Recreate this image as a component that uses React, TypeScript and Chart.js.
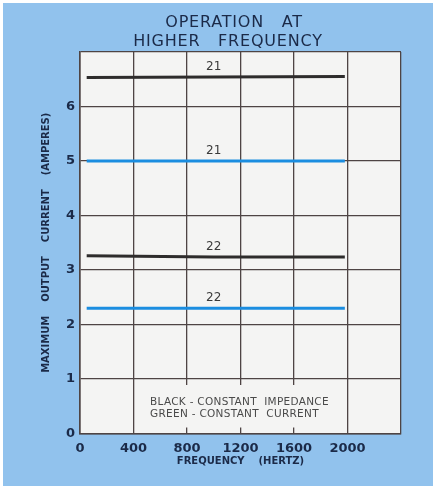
import React, { useEffect, useRef } from "react";
import { Chart, registerables } from "chart.js";

Chart.register(...registerables);

const TITLE_LINES = ["OPERATION   AT", "HIGHER   FREQUENCY"];
const X_TITLE = "FREQUENCY    (HERTZ)";
const Y_TITLE = "MAXIMUM    OUTPUT    CURRENT    (AMPERES)";
const NOTE_LINES = ["BLACK - CONSTANT  IMPEDANCE", "GREEN - CONSTANT  CURRENT"];

const FREQ = [50, 1000, 1980];
const BLACK_21 = [6.53, 6.54, 6.55];
const GREEN_21 = [5.0, 5.0, 5.0];
const BLACK_22 = [3.26, 3.24, 3.24];
const GREEN_22 = [2.3, 2.3, 2.3];
const SERIES_NAMES = ["21", "21", "22", "22"];
const LABEL_X = 1000;

const X_MIN = 0;
const X_MAX = 2400;
const X_STEP = 400;
const X_LAST_LABEL = 2000;
const Y_MIN = 0;
const Y_MAX = 7;
const Y_LAST_LABEL = 6;

const BG_BLUE = "#91c2ed";
const PLOT_BG = "#f4f4f3";
const GRID = "#4e4444";
const INK = "#1b2a48";
const BLACK_LINE = "#2e2c2c";
const GREEN_LINE = "#1b8de0";

const decorPlugin = {
  id: "decor",
  beforeDraw(chart: any) {
    const { ctx, chartArea } = chart;
    ctx.save();
    ctx.fillStyle = "#ffffff";
    ctx.fillRect(0, 0, chart.width, chart.height);
    ctx.fillStyle = BG_BLUE;
    ctx.fillRect(3, 3, chart.width - 7, chart.height - 3);
    ctx.fillStyle = PLOT_BG;
    ctx.fillRect(chartArea.left, chartArea.top, chartArea.right - chartArea.left, chartArea.bottom - chartArea.top);
    ctx.restore();
  },
  beforeDatasetsDraw(chart: any) {
    const { ctx } = chart;
    const xs = chart.scales.x;
    const ys = chart.scales.y;
    ctx.save();
    // note box
    const left = xs.getPixelForValue(400) + 1.5;
    const right = xs.getPixelForValue(2000) - 1.5;
    const top = ys.getPixelForValue(1) + 6;
    const bottom = ys.getPixelForValue(0) - 6;
    ctx.fillStyle = PLOT_BG;
    ctx.fillRect(left, top, right - left, bottom - top);
    ctx.fillStyle = "#4a4a4a";
    ctx.font = "10.5px 'DejaVu Sans'";
    (ctx as any).letterSpacing = "0.3px";
    ctx.textBaseline = "middle";
    ctx.textAlign = "left";
    ctx.fillText(NOTE_LINES[0], left + 15, top + 17.5);
    ctx.fillText(NOTE_LINES[1], left + 15, top + 29);
    (ctx as any).letterSpacing = "0px";
    // series labels
    ctx.font = "12px 'DejaVu Sans'";
    ctx.textAlign = "center";
    ctx.fillStyle = "#3a3a3a";
    chart.data.datasets.forEach((ds: any, i: number) => {
      const idx = FREQ.indexOf(LABEL_X);
      const v = ds.data[idx].y;
      ctx.fillText(SERIES_NAMES[i], xs.getPixelForValue(LABEL_X), ys.getPixelForValue(v) - 10.5);
    });
    ctx.restore();
  },
  afterDraw(chart: any) {
    const { ctx } = chart;
    ctx.save();
    ctx.fillStyle = INK;
    ctx.font = "16px 'DejaVu Sans'";
    (ctx as any).letterSpacing = "0.8px";
    ctx.textAlign = "center";
    ctx.textBaseline = "middle";
    ctx.fillText(TITLE_LINES[0], 234, 23);
    ctx.fillText(TITLE_LINES[1], 228, 42);
    ctx.restore();
  },
};

const mk = (vals: number[]) => FREQ.map((f, i) => ({ x: f, y: vals[i] }));

export default function App() {
  const ref = useRef<HTMLCanvasElement>(null);
  useEffect(() => {
    document.body.style.margin = "0";
    const chart = new Chart(ref.current!, {
      type: "line",
      data: {
        datasets: [
          { data: mk(BLACK_21), borderColor: BLACK_LINE },
          { data: mk(GREEN_21), borderColor: GREEN_LINE },
          { data: mk(BLACK_22), borderColor: BLACK_LINE },
          { data: mk(GREEN_22), borderColor: GREEN_LINE },
        ].map((d) => ({ ...d, borderWidth: 3, pointRadius: 0, tension: 0, fill: false })),
      },
      options: {
        animation: false,
        responsive: false,
        layout: { padding: { left: 0, right: 36, top: 52, bottom: 0 } },
        plugins: { legend: { display: false }, tooltip: { enabled: false }, title: { display: false } },
        scales: {
          x: {
            type: "linear",
            min: X_MIN,
            max: X_MAX,
            afterFit: (s: any) => { s.height = 52.5; },
            ticks: {
              stepSize: X_STEP,
              padding: 7,
              maxRotation: 0,
              color: INK,
              font: { family: "'DejaVu Sans'", size: 13, weight: "bold" },
              callback: (v: any) => (v <= X_LAST_LABEL ? String(v) : ""),
            },
            grid: { color: GRID, lineWidth: 1.3, drawTicks: false },
            border: { color: GRID, width: 1.6 },
            title: {
              display: true,
              text: X_TITLE,
              color: INK,
              font: { family: "'DejaVu Sans'", size: 10, weight: "bold" },
              padding: { top: 0, bottom: 19 },
            },
          },
          y: {
            min: Y_MIN,
            max: Y_MAX,
            afterFit: (s: any) => { s.width = 80; },
            ticks: {
              stepSize: 1,
              padding: 5,
              color: INK,
              font: { family: "'DejaVu Sans'", size: 13, weight: "bold" },
              callback: (v: any) => (v <= Y_LAST_LABEL ? String(v) : ""),
            },
            grid: { color: GRID, lineWidth: 1.3, drawTicks: false },
            border: { color: GRID, width: 1.6 },
            title: {
              display: true,
              text: Y_TITLE,
              color: INK,
              font: { family: "'DejaVu Sans'", size: 10, weight: "bold" },
              padding: { top: 40, bottom: 0 },
            },
          },
        },
      },
      plugins: [decorPlugin],
    } as any);
    return () => chart.destroy();
  }, []);
  return (
    <div style={{ width: 437, height: 486 }}>
      <canvas ref={ref} width={437} height={486} />
    </div>
  );
}
